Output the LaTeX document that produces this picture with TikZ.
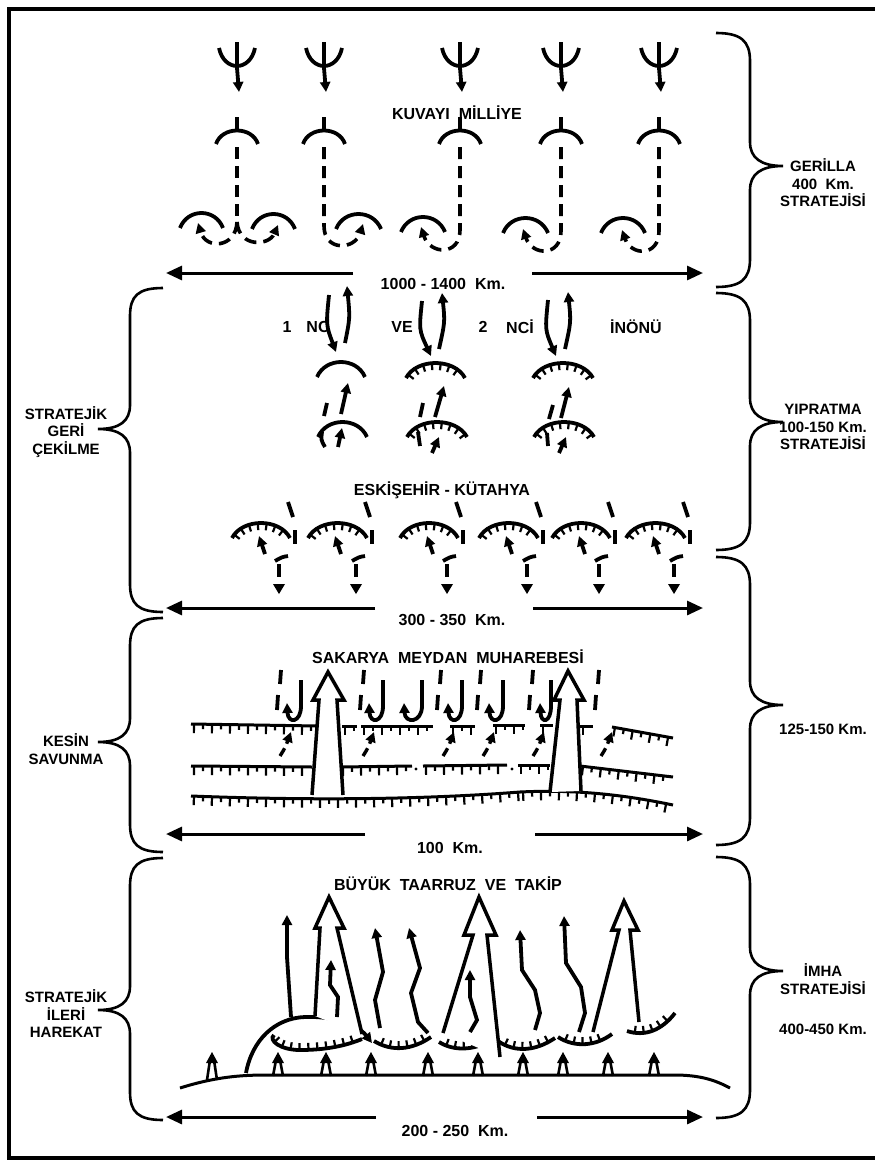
\documentclass[tikz,border=0pt]{standalone}
\usepackage{fontspec}
\setmainfont{Liberation Sans}
\usetikzlibrary{arrows.meta,decorations.markings}
\tikzset{
  lbl/.style={font=\fontsize{16}{18}\selectfont\bfseries, inner sep=0pt},
  side/.style={font=\fontsize{15}{17.5}\selectfont\bfseries, inner sep=0pt, align=center},
  sym/.style={line width=3.8pt},
  dsh/.style={line width=3.6pt, dash pattern=on 12pt off 7pt},
  dshs/.style={line width=3.4pt, dash pattern=on 9pt off 5pt},
  tipa/.style={-{Triangle[length=10pt,width=10pt]}},
  longarr/.style={line width=3pt, -{Triangle[length=16pt,width=14pt]}},
  bracestyle/.style={line width=2.6pt},
  defline/.style={line width=3pt},
  tkdown/.style={postaction={decorate}, decoration={markings,
     mark=between positions 4pt and -3pt step 9pt with {\draw[line width=2.2pt] (0pt,0pt) -- (0pt,-7pt);}}},
  tkdef/.style={postaction={decorate}, decoration={markings,
     mark=between positions 3pt and -2pt step 18pt with {\draw[line width=2.2pt] (0pt,0pt) -- (0pt,-9pt);},
     mark=between positions 12pt and -2pt step 18pt with {\draw[line width=2.2pt] (0pt,0pt) -- (0pt,-5pt);}}},
  tkup/.style={postaction={decorate}, decoration={markings,
     mark=between positions 8pt and -5pt step 9pt with {\draw[line width=2.2pt] (0pt,0pt) -- (0pt,7pt);}}},
  hollow/.style={line width=3.5pt, fill=white, line join=miter},
}
\newcommand{\CapArc}[4]{\draw[sym,#4] (#1,#3) .. controls ({#1+0.18*(#2-#1)},{#3-20}) and ({#1+0.82*(#2-#1)},{#3-20}) .. (#2,#3);}
\newcommand{\RBr}[3]{\draw[bracestyle] (716,#1) .. controls (741,#1) and (750,{#1+8}) .. (750,{#1+28}) -- (750,{#2-24}) .. controls (750,{#2-8}) and (761,#2) .. (783,#2) .. controls (761,#2) and (750,{#2+8}) .. (750,{#2+24}) -- (750,{#3-28}) .. controls (750,{#3-8}) and (741,#3) .. (716,#3);}
\newcommand{\LBr}[3]{\draw[bracestyle] (163,#1) .. controls (138,#1) and (130,{#1+8}) .. (130,{#1+28}) -- (130,{#2-24}) .. controls (130,{#2-8}) and (120,#2) .. (98,#2) .. controls (120,#2) and (130,{#2+8}) .. (130,{#2+24}) -- (130,{#3-28}) .. controls (130,{#3-8}) and (138,#3) .. (163,#3);}
\begin{document}
\begin{tikzpicture}[x=1pt,y=-1pt]
\useasboundingbox (0,0) rectangle (875,1167);
\clip (0,0) rectangle (875,1167);
\draw[line width=4.5pt] (875,9) -- (9,9) -- (9,1158) -- (875,1158);

% ---------- braces and side labels ----------
\RBr{33}{166}{287}
\RBr{293}{422}{550}
\RBr{557}{705}{845}
\RBr{857}{971}{1118}
\LBr{288}{429}{612}
\LBr{618}{742}{852}
\LBr{858}{1010}{1120}
\node[side] (gerilla) at (823,183) {GERİLLA\\400\ \ Km.\\STRATEJİSİ};
\node[side] (yipratma) at (823,427) {YIPRATMA\\100-150 Km.\\STRATEJİSİ};
\node[side] (k125) at (823,729) {125-150 Km.};
\node[side] (imha) at (823,979) {İMHA\\STRATEJİSİ};
\node[side] (k400) at (823,1029) {400-450 Km.};
\node[side] (geri) at (66,432) {STRATEJİK\\GERİ\\ÇEKİLME};
\node[side] (kesin) at (66,749) {KESİN\\SAVUNMA};
\node[side] (ileri) at (66,1014) {STRATEJİK\\İLERİ\\HAREKAT};

% ---------- long arrows ----------
\node[lbl] (d1) at (443,284) {1000 - 1400\ \ Km.};
\draw[longarr] (353,273) -- (166,273);
\draw[longarr] (532,273) -- (703,273);
\node[lbl] (d2) at (452,620) {300 - 350\ \ Km.};
\draw[longarr] (375,608) -- (166,608);
\draw[longarr] (533,608) -- (703,608);
\node[lbl] (d3) at (450,848) {100\ \ Km.};
\draw[longarr] (365,834) -- (166,834);
\draw[longarr] (535,834) -- (703,834);
\node[lbl] (d4) at (455,1131) {200 - 250\ \ Km.};
\draw[longarr] (376,1117) -- (166,1117);
\draw[longarr] (537,1117) -- (703,1117);

% ---------- section 1: Kuvayi Milliye ----------
\node[lbl] (kuv) at (457,113) {KUVAYI\ \ MİLLİYE};
\foreach \cx in {237,324,460,561,659}{
  \draw[sym] (\cx,42) -- (\cx,68);
  \draw[sym] ({\cx-18},48) .. controls ({\cx-13},72) and ({\cx+13},72) .. ({\cx+18},48);
  \draw[sym,tipa] (\cx,68) -- ({\cx+2},92);
  \draw[sym] (\cx,117) -- (\cx,131);
  \draw[sym] ({\cx-21},144) .. controls ({\cx-15},126) and ({\cx+15},126) .. ({\cx+21},144);
}
\CapArc{180}{223}{228}{}
\CapArc{252}{295}{229}{}
\CapArc{336}{381}{229}{}
\CapArc{401}{445}{232}{}
\CapArc{503}{548}{233}{}
\CapArc{601}{645}{233}{}
\draw[dsh] (237,147) -- (237,222);
\draw[dsh,tipa] (237,222) .. controls (236,248) and (206,250) .. (198,223);
\draw[dsh,tipa] (237,222) .. controls (239,248) and (269,246) .. (278,225);
\draw[dsh,tipa] (324,147) -- (324,226) .. controls (324,252) and (355,250) .. (363,224);
\draw[dsh,tipa] (460,147) -- (460,230) .. controls (460,256) and (430,255) .. (421,227);
\draw[dsh,tipa] (561,147) -- (561,231) .. controls (561,257) and (532,256) .. (523,229);
\draw[dsh,tipa] (659,147) -- (659,231) .. controls (659,257) and (631,256) .. (622,230);

% ---------- section 2: Inonu ----------
\node[lbl] (n1) at (287,327) {1};
\node[lbl] (nc) at (318,327) {NC};
\node[lbl] (ve) at (402,327) {VE};
\node[lbl] (n2) at (483,327) {2};
\node[lbl] (nci) at (520,327) {NCİ};
\node[lbl] (inonu) at (636,327) {İNÖNÜ};
\draw[sym,tipa] (329,295) .. controls (326,325) .. (336,352);
\draw[sym,tipa] (345,343) .. controls (350,318) .. (347,286);
\draw[sym,tipa] (422,301) .. controls (419,330) .. (431,356);
\draw[sym,tipa] (439,349) .. controls (445,322) .. (442,293);
\draw[sym,tipa] (548,300) .. controls (545,330) .. (556,356);
\draw[sym,tipa] (565,349) .. controls (571,322) .. (568,292);
\CapArc{317}{365}{377}{}
\CapArc{406}{465}{378}{tkdown}
\CapArc{533}{593}{378}{tkdown}
\CapArc{318}{367}{437}{}
\CapArc{407}{467}{437}{tkdown}
\CapArc{534}{594}{437}{tkdown}
\draw[sym] (327,403) -- (324,416);
\draw[sym,tipa] (341,414) -- (348,383);
\draw[sym] (322,432) .. controls (321,440) .. (325,447);
\draw[sym,tipa] (338,447) -- (342,428);
\draw[sym] (423,403) -- (420,417);
\draw[sym,tipa] (435,417) -- (444,386);
\draw[sym] (418,432) -- (420,446);
\draw[sym,tipa] (432,453) -- (439,437);
\draw[sym] (553,405) -- (549,419);
\draw[sym,tipa] (561,418) -- (569,387);
\draw[sym] (547,433) -- (548,446);
\draw[sym,tipa] (559,453) -- (566,437);

% ---------- Eskisehir - Kutahya ----------
\node[lbl] (esk) at (442,490) {ESKİŞEHİR - KÜTAHYA};
\foreach \a/\b in {232/290,308/367,400/458,479/538,552/610,626/685}{
  \CapArc{\a}{\b}{538}{tkdown}
  \draw[sym] ({\b-2},502) -- ({\b+3},517);
  \draw[sym] ({\b+5},530) -- ({\b+5},544);
  \draw[sym] ({\b-15},561) .. controls ({\b-8},557) .. ({\b-2},556);
  \draw[sym] ({\b-11},564) -- ({\b-11},577);
  \fill ({\b-17},584) -- ({\b-5},584) -- ({\b-11},594) -- cycle;
  \draw[sym,tipa] ({\a+33},554) -- ({\a+27},536);
}

% ---------- section 3: Sakarya ----------
\node[lbl] (sak) at (448,657) {SAKARYA\ \ MEYDAN\ \ MUHAREBESİ};
\draw[defline,tkdef] (191,724) -- (318,726);
\draw[defline,tkdef] (342,726) -- (357,726);
\draw[defline,tkdef] (361,726) -- (433,726);
\draw[defline,tkdef] (450,726) -- (475,726);
\draw[defline,tkdef] (493,725) -- (525,725);
\draw[defline,tkdef] (540,725) -- (553,725);
\draw[defline,tkdef] (580,726) -- (593,726);
\draw[defline,tkdef] (612,727) -- (673,738);
\draw[defline,tkdef] (191,766) -- (312,767);
\draw[defline,tkdef] (340,767) -- (412,766);
\fill (416,769) circle (1.6);
\draw[defline,tkdef] (423,766) -- (507,765);
\fill (512,769) circle (1.6);
\draw[defline,tkdef] (518,765) -- (550,765);
\draw[defline,tkdef] (580,766) -- (673,777);
\draw[defline,tkdef] (191,796) .. controls (320,801) and (430,799) .. (520,792);
\draw[defline,tkdef] (520,792) .. controls (580,789) and (630,796) .. (673,805);
\filldraw[hollow] (312,795) -- (319,700) -- (313,700) -- (328,672) -- (344,700) -- (337,700) -- (343,795);
\filldraw[hollow] (550,792) -- (560,700) -- (554,700) -- (568,671) -- (584,700) -- (577,700) -- (581,791);
\foreach \jx/\hw in {301/13,383/13,422/17,462/13,503/13,551/10}{
  \draw[sym,tipa] (\jx,680) -- (\jx,706) .. controls (\jx,723) and ({\jx-\hw},724) .. ({\jx-\hw-1},703);
}
\foreach \dx in {280,363,440,480,532,598}{
  \draw[sym] ({\dx+1},670) -- (\dx,684);
  \draw[sym] ({\dx-2},695) -- ({\dx-3},710);
}
\foreach \sx in {280,363,443,483,533,601}{
  \draw[dshs,tipa] (\sx,756) .. controls ({\sx+5},748) .. ({\sx+11},732);
}

% ---------- section 4: Buyuk Taarruz ----------
\node[lbl] (buy) at (448,884) {BÜYÜK\ \ TAARRUZ\ \ VE\ \ TAKİP};
\draw[line width=3pt] (180,1088) .. controls (215,1077) and (240,1075) .. (267,1075) -- (674,1075) .. controls (700,1075) and (715,1080) .. (730,1088);
\foreach \ux/\uy in {212/1080,278/1076,326/1076,371/1076,428/1076,478/1076,523/1076,563/1076,608/1076,654/1076}{
  \draw[line width=2.6pt] ({\ux-5},\uy) -- ({\ux-2},1060);
  \draw[line width=2.6pt] ({\ux+5},\uy) -- ({\ux+2},1060);
  \fill ({\ux-6},1063) -- (\ux,1052) -- ({\ux+6},1063) -- cycle;
}
\draw[sym,tipa] (246,1073) .. controls (252,1040) and (275,1018) .. (305,1017) .. controls (335,1016) and (358,1025) .. (372,1043);
\draw[sym,tkup] (274,1035) .. controls (268,1040) and (280,1050) .. (300,1050) .. controls (325,1050) and (345,1046) .. (362,1039);
\draw[sym,tkup] (374,1041) .. controls (392,1052) and (412,1050) .. (431,1037);
\draw[sym,tkup] (439,1042) .. controls (455,1052) and (476,1050) .. (494,1039);
\draw[sym,tkup] (498,1041) .. controls (515,1053) and (536,1051) .. (555,1038);
\draw[sym,tkup] (558,1037) .. controls (575,1048) and (596,1046) .. (612,1034);
\draw[sym,tkup] (627,1031) .. controls (645,1037) and (662,1030) .. (675,1013);
\draw[hollow] (315,1016) -- (320,928) -- (315,928) -- (329,897) -- (344,928) -- (337,928) -- (362,1034);
\draw[hollow] (443,1033) -- (473,935) -- (464,935) -- (479,897) -- (496,935) -- (487,935) -- (500,1057);
\draw[hollow] (593,1032) -- (619,930) -- (612,930) -- (624,901) -- (638,930) -- (630,930) -- (639,1022);
\draw[sym,tipa] (291,1017) -- (287,957) -- (287,915);
\draw[sym,tipa] (337,1017) -- (338,997) -- (330,985) -- (331,960);
\draw[sym,tipa] (380,1028) -- (375,1000) -- (383,972) -- (375,928);
\draw[sym,tipa] (428,1033) -- (418,1022) -- (411,993) -- (420,968) -- (409,928);
\draw[sym,tipa] (470,1032) -- (477,1020) -- (470,997) -- (470,970);
\draw[sym,tipa] (535,1030) -- (540,1013) -- (535,990) -- (522,970) -- (520,930);
\draw[sym,tipa] (579,1032) -- (585,1013) -- (581,987) -- (566,963) -- (564,916);
\end{tikzpicture}
\end{document}
